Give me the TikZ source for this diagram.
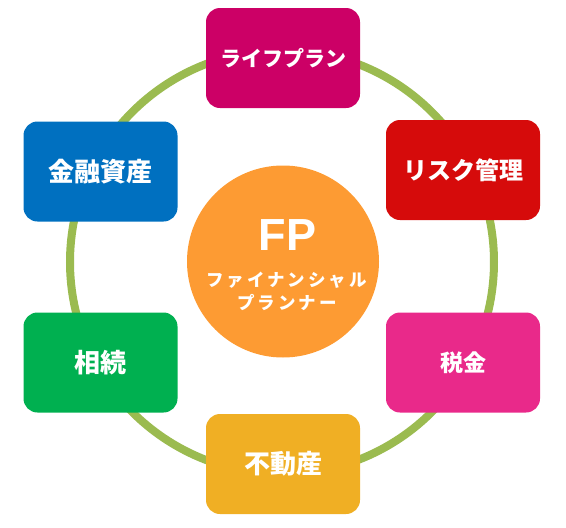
\documentclass[tikz,border=0pt]{standalone}
\usepackage{fontspec}
\newfontfamily\jp{Noto Sans CJK JP}
\newfontfamily\lat{Liberation Sans}
\usetikzlibrary{positioning}
\definecolor{ringc}{HTML}{9BBB50}
\definecolor{clife}{HTML}{CC0066}
\definecolor{crisk}{HTML}{D60B0B}
\definecolor{ctax}{HTML}{E9298A}
\definecolor{creal}{HTML}{F0AF24}
\definecolor{cinh}{HTML}{00B050}
\definecolor{cfin}{HTML}{0070C0}
\definecolor{cfp}{HTML}{FD9B33}
\tikzset{
  topic/.style={rectangle, rounded corners=14pt, minimum width=154pt, minimum height=100pt, inner sep=0pt, text=white, font=\jp\bfseries},
  ringline/.style={draw=ringc, line width=8pt},
  fpcircle/.style={circle, fill=cfp, minimum size=192pt, inner sep=0pt},
  fptext/.style={text=white, inner sep=0pt}
}
\begin{document}
\begin{tikzpicture}[x=1pt,y=-1pt]
\useasboundingbox (0,0) rectangle (566,528);
\coordinate (rc) at (282,262);
\draw[ringline] (rc) circle[radius=212];
\node[topic, fill=clife, font=\jp\bfseries\fontsize{21}{24}\selectfont] (life) at (283,58) {ライフプラン};
\node[topic, fill=crisk, font=\jp\bfseries\fontsize{24}{28}\selectfont] (risk) at (463,170) {リスク管理};
\node[topic, fill=ctax, font=\jp\bfseries\fontsize{23}{28}\selectfont] (tax) at (463,362.5) {税金};
\node[topic, fill=creal, font=\jp\bfseries\fontsize{26}{30}\selectfont] (real) at (283,464) {不動産};
\node[topic, fill=cinh, font=\jp\bfseries\fontsize{26}{30}\selectfont] (inh) at (100.5,362.5) {相続};
\node[topic, fill=cfin, font=\jp\bfseries\fontsize{26}{30}\selectfont] (fin) at (100.5,171.5) {金融資産};
\node[fpcircle] (fp) at (283,261.5) {};
\node[fptext, font=\lat\bfseries\fontsize{45}{50}\selectfont] (fpt) at (287.5,235) {FP};
\node[fptext, font=\jp\bfseries\fontsize{17.5}{20}\selectfont] (fpn1) at (286.5,280) {フ\,ァ\,イ\,ナ\,ン\,シ\,ャ\,ル};
\node[fptext, font=\jp\bfseries\fontsize{17.5}{20}\selectfont] (fpn2) at (287,303) {プ\,ラ\,ン\,ナ\,ー};
\end{tikzpicture}
\end{document}
